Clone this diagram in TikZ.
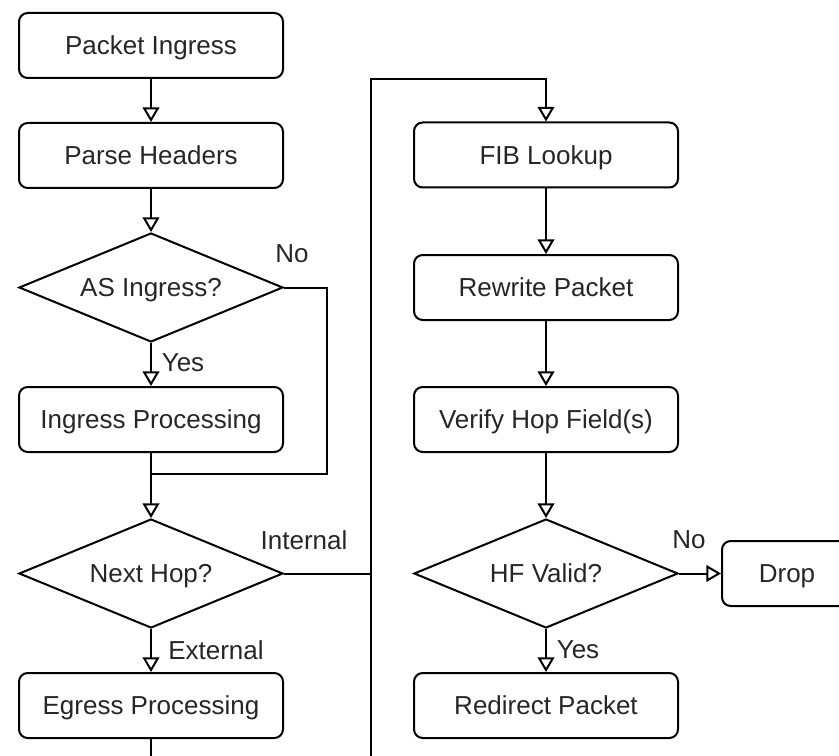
\documentclass[tikz,border=0pt]{standalone}
\usepackage{fontspec}
\setmainfont{Liberation Sans}
\usetikzlibrary{shapes.geometric,arrows.meta}
\begin{document}
\begin{tikzpicture}[x=0.75pt,y=-0.75pt,
  every node/.style={font=\fontsize{19.5pt}{23pt}\selectfont, text=black!85},
  procbox/.style={draw, line width=1.5pt, rounded corners=6.5pt, minimum width=198pt, minimum height=48.75pt, inner sep=0pt, text height=14pt, text depth=0pt},
  dropbox/.style={procbox, minimum width=97.5pt},
  decide/.style={draw, line width=1.5pt, shape=diamond, aspect=2.42, minimum width=198pt, minimum height=81.75pt, inner sep=0pt, text height=14pt, text depth=0pt},
  conn/.style={line width=1.5pt},
  arr/.style={conn, -{Triangle[open, length=11pt, width=12.5pt, line width=1.5pt]}},
  lbl/.style={inner sep=0pt}]
\useasboundingbox (0,0) rectangle (839,756);
\clip (0,0) rectangle (839,756);
% left column
\node[procbox] (pi) at (151,45.5) {Packet Ingress};
\node[procbox] (ph) at (151,155.5) {Parse Headers};
\node[decide] (asi) at (151,287.5) {AS Ingress?};
\node[procbox] (ip) at (151,419.5) {Ingress Processing};
\node[decide] (nh) at (151,573.5) {Next Hop?};
\node[procbox] (eg) at (151,705.5) {Egress Processing};
% right column
\node[procbox] (fib) at (546,155) {FIB Lookup};
\node[procbox] (rw) at (546,287.5) {Rewrite Packet};
\node[procbox] (vh) at (546,419.5) {Verify Hop Field(s)};
\node[decide] (hf) at (546,573.5) {HF Valid?};
\node[procbox] (rp) at (546,705.5) {Redirect Packet};
\node[dropbox] (drop) at (787,573.5) {Drop};
% helper coordinates
\coordinate (j1) at (151,474);
\coordinate (r1) at (327,287.5);
\coordinate (top2) at (371,79);
\coordinate (bot2) at (371,760);
\coordinate (bot1) at (151,760);
% connectors
\draw[arr] (pi) -- (ph);
\draw[arr] (ph) -- (asi);
\draw[arr] (asi) -- (ip);
\draw[conn] (asi.east) -- (r1) |- (j1);
\draw[arr] (ip) -- (nh);
\draw[arr] (nh) -- (eg);
\draw[conn] (eg) -- (bot1);
\draw[conn] (nh.east) -- (nh.east -| top2);
\draw[arr] (bot2) -- (top2) -| (fib);
\draw[arr] (fib) -- (rw);
\draw[arr] (rw) -- (vh);
\draw[arr] (vh) -- (hf);
\draw[arr] (hf) -- (rp);
\draw[arr] (hf) -- (drop);
% labels
\node[lbl] (lno1) at (292,254) {No};
\node[lbl] (lyes1) at (183,363) {Yes};
\node[lbl] (lint) at (304,540) {Internal};
\node[lbl] (lext) at (216,650) {External};
\node[lbl] (lno2) at (689,540) {No};
\node[lbl] (lyes2) at (578,650) {Yes};
\end{tikzpicture}
\end{document}
